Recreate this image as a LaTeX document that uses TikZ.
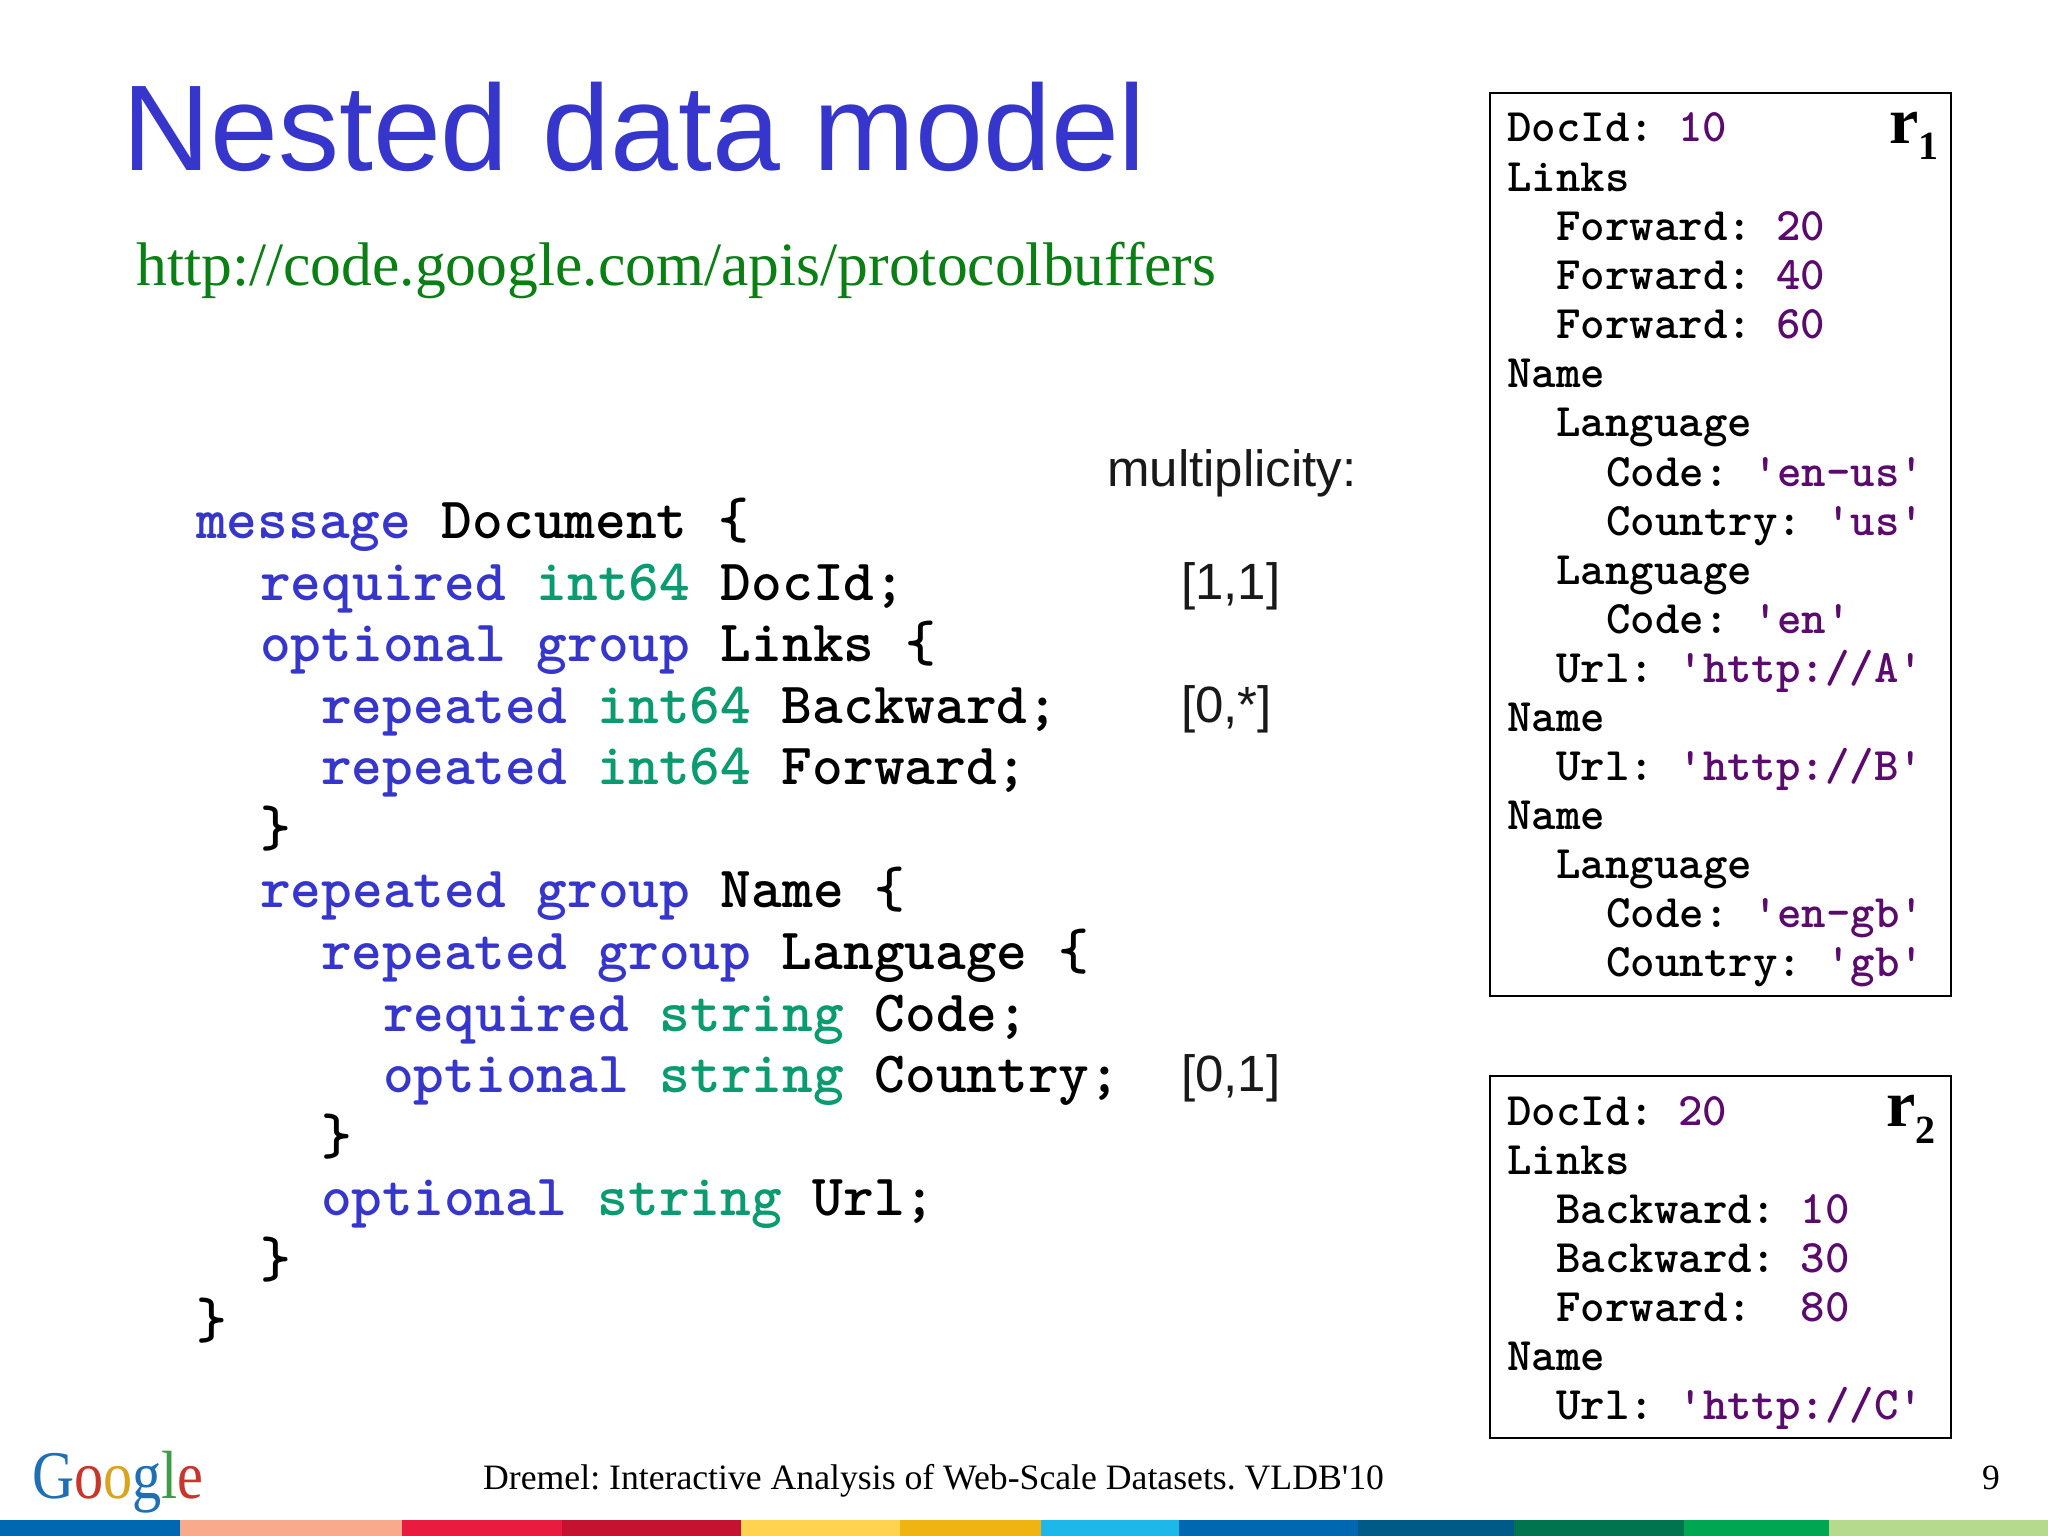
\documentclass[tikz,border=0pt]{standalone}
\usepackage{fontspec}
\setmainfont{Liberation Serif}
\newfontfamily\arialfont{Liberation Sans}
\definecolor{titleblue}{HTML}{3636CC}
\definecolor{urlgreen}{HTML}{0A7F14}
\definecolor{typegreen}{HTML}{0A9B70}
\definecolor{valpurple}{HTML}{5B0A6E}
\newcommand{\kw}[1]{\textcolor{titleblue}{#1}}
\newcommand{\ty}[1]{\textcolor{typegreen}{#1}}
\newcommand{\val}[1]{\textcolor{valpurple}{#1}}
\frenchspacing
\tikzset{
  textline/.style={anchor=base west, inner sep=0pt},
  codeline/.style={textline, font=\fontsize{58.5}{61}\selectfont\ttfamily\bfseries},
  recline/.style={textline, font=\fontsize{46.6}{49}\selectfont\ttfamily\bfseries},
  multlabel/.style={textline, text=black!90, font=\fontsize{51}{60}\selectfont\arialfont},
  recbox/.style={draw, line width=1.8pt, minimum width=461pt, anchor=north west, inner sep=0pt},
  reclabel/.style={textline, font=\fontsize{66}{70}\selectfont\bfseries},
  barseg/.style={inner sep=0pt, anchor=north west, minimum height=16pt}
}

\begin{document}
\begin{tikzpicture}[x=1pt,y=-1pt]
  \useasboundingbox (0,0) rectangle (2048,1536);

  % Title and link
  \node (title) [textline, text=titleblue, font=\fontsize{122}{125}\selectfont\arialfont] at (122,171) {Nested data model};
  \node (url)   [textline, text=urlgreen, font=\fontsize{61.6}{66}\selectfont] at (136,285) {http://code.google.com/apis/protocolbuffers};

  % Schema
  \node (l0)  [codeline] at (196,538)  {\kw{message} Document \{};
  \node (l1)  [codeline] at (260,600)  {\kw{required} \ty{int64} DocId;};
  \node (l2)  [codeline] at (260,661)  {\kw{optional} \kw{group} Links \{};
  \node (l3)  [codeline] at (321,723)  {\kw{repeated} \ty{int64} Backward;};
  \node (l4)  [codeline] at (321,784)  {\kw{repeated} \ty{int64} Forward;};
  \node (l5)  [codeline] at (260,846)  {\}};
  \node (l6)  [codeline] at (260,907)  {\kw{repeated} \kw{group} Name \{};
  \node (l7)  [codeline] at (321,969)  {\kw{repeated} \kw{group} Language \{};
  \node (l8)  [codeline] at (383,1031) {\kw{required} \ty{string} Code;};
  \node (l9)  [codeline] at (383,1092) {\kw{optional} \ty{string} Country;};
  \node (l10) [codeline] at (321,1154) {\}};
  \node (l11) [codeline] at (321,1215) {\kw{optional} \ty{string} Url;};
  \node (l12) [codeline] at (260,1277) {\}};
  \node (l13) [codeline] at (196,1338) {\}};

  % Multiplicities
  \node (mult) [multlabel] at (1107,486) {multiplicity:};
  \node (m11)  [multlabel] at (1181,599) {[1,1]};
  \node (m0s)  [multlabel] at (1181,722) {[0,*]};
  \node (m01)  [multlabel] at (1181,1091) {[0,1]};

  % Record r1
  \node (boxa) [recbox, minimum height=903pt] at (1489,92) {};
  \node (ra)   [reclabel] at (1889,143) {r\raisebox{-17pt}{\fontsize{40}{40}\selectfont 1}};
  \node (a0)  [recline] at (1507,142)  {DocId: \val{10}};
  \node (a1)  [recline] at (1507,191)  {Links};
  \node (a2)  [recline] at (1556,240)  {Forward: \val{20}};
  \node (a3)  [recline] at (1556,289)  {Forward: \val{40}};
  \node (a4)  [recline] at (1556,338)  {Forward: \val{60}};
  \node (a5)  [recline] at (1507,387)  {Name};
  \node (a6)  [recline] at (1556,436)  {Language};
  \node (a7)  [recline] at (1606,486)  {Code: \val{'en-us'}};
  \node (a8)  [recline] at (1606,535)  {Country: \val{'us'}};
  \node (a9)  [recline] at (1556,584)  {Language};
  \node (a10) [recline] at (1606,633)  {Code: \val{'en'}};
  \node (a11) [recline] at (1556,682)  {Url: \val{'http://A'}};
  \node (a12) [recline] at (1507,731)  {Name};
  \node (a13) [recline] at (1556,780)  {Url: \val{'http://B'}};
  \node (a14) [recline] at (1507,829)  {Name};
  \node (a15) [recline] at (1556,878)  {Language};
  \node (a16) [recline] at (1606,927)  {Code: \val{'en-gb'}};
  \node (a17) [recline] at (1606,976)  {Country: \val{'gb'}};

  % Record r2
  \node (boxb) [recbox, minimum height=362pt] at (1489,1075) {};
  \node (rb)   [reclabel] at (1886,1126) {r\raisebox{-17pt}{\fontsize{40}{40}\selectfont 2}};
  \node (b0) [recline] at (1507,1125) {DocId: \val{20}};
  \node (b1) [recline] at (1507,1174) {Links};
  \node (b2) [recline] at (1556,1223) {Backward: \val{10}};
  \node (b3) [recline] at (1556,1272) {Backward: \val{30}};
  \node (b4) [recline] at (1556,1321) {Forward:~~\val{80}};
  \node (b5) [recline] at (1507,1370) {Name};
  \node (b6) [recline] at (1556,1419) {Url: \val{'http://C'}};

  % Footer
  \node (logo) [textline, font=\fontsize{62}{66}\selectfont] at (32,1498)
    {\scalebox{.94}[1.1]{\textcolor[HTML]{1F6FB5}{G}\textcolor[HTML]{C8362B}{o}\textcolor[HTML]{D9A520}{o}\textcolor[HTML]{1F6FB5}{g}\textcolor[HTML]{3F9B4A}{l}\textcolor[HTML]{C8362B}{e}}};
  \node (foot) [textline, font=\fontsize{35.7}{40}\selectfont] at (483,1489) {Dremel: Interactive Analysis of Web-Scale Datasets. VLDB\textquotesingle10};
  \node (page) [textline, font=\fontsize{35.5}{40}\selectfont] at (1982,1489) {9};

  % Colour bar
  \node (s1)  [barseg, fill={rgb,255:red,0;green,104;blue,176},   minimum width=180pt] at (0,1520) {};
  \node (s2)  [barseg, fill={rgb,255:red,249;green,169;blue,140}, minimum width=222pt] at (180,1520) {};
  \node (s3)  [barseg, fill={rgb,255:red,233;green,28;blue,63},   minimum width=160pt] at (402,1520) {};
  \node (s4)  [barseg, fill={rgb,255:red,196;green,18;blue,48},   minimum width=179pt] at (562,1520) {};
  \node (s5)  [barseg, fill={rgb,255:red,255;green,211;blue,79},  minimum width=159pt] at (741,1520) {};
  \node (s6)  [barseg, fill={rgb,255:red,239;green,180;blue,17},  minimum width=141pt] at (900,1520) {};
  \node (s7)  [barseg, fill={rgb,255:red,29;green,183;blue,233},  minimum width=138pt] at (1041,1520) {};
  \node (s8)  [barseg, fill={rgb,255:red,0;green,104;blue,176},   minimum width=179pt] at (1179,1520) {};
  \node (s9)  [barseg, fill={rgb,255:red,0;green,90;blue,135},    minimum width=156pt] at (1358,1520) {};
  \node (s10) [barseg, fill={rgb,255:red,0;green,116;blue,78},    minimum width=170pt] at (1514,1520) {};
  \node (s11) [barseg, fill={rgb,255:red,0;green,166;blue,81},    minimum width=145pt] at (1684,1520) {};
  \node (s12) [barseg, fill={rgb,255:red,181;green,217;blue,141}, minimum width=219pt] at (1829,1520) {};
\end{tikzpicture}
\end{document}
